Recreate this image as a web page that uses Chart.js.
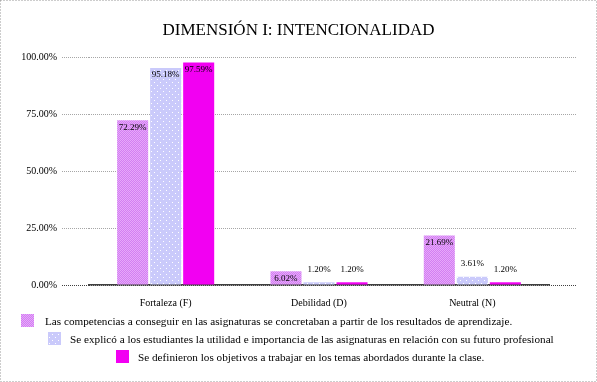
<!DOCTYPE html>
<html>
<head>
<meta charset="utf-8">
<script src="https://cdn.jsdelivr.net/npm/chart.js@4"></script>
<style>
  body { margin: 0; background: #fff; }
  #chart { display: block; }
</style>
</head>
<body>
<canvas id="chart" width="597" height="382"></canvas>
<script>
// datos
const categories = ['Fortaleza (F)', 'Debilidad (D)', 'Neutral (N)'];
const seriesNames = [
  'Las competencias a conseguir en las asignaturas se concretaban a partir de los resultados de aprendizaje.',
  'Se explicó a los estudiantes la utilidad e importancia de las asignaturas en relación con su futuro profesional',
  'Se definieron los objetivos a trabajar en los temas abordados durante la clase.'
];
const competencias = [72.29, 6.02, 21.69];
const utilidad = [95.18, 1.20, 3.61];
const objetivos = [97.59, 1.20, 1.20];
const yTickLabels = ['0.00%', '25.00%', '50.00%', '75.00%', '100.00%'];

const SERIF = "'Liberation Serif', 'Times New Roman', serif";

// texturas parecidas a las del original
function makePattern(size, base, dots) {
  const c = document.createElement('canvas');
  c.width = size; c.height = size;
  const g = c.getContext('2d');
  g.fillStyle = base;
  g.fillRect(0, 0, size, size);
  dots.forEach(d => { g.fillStyle = d[2]; g.fillRect(d[0], d[1], 1, 1); });
  return g.createPattern(c, 'repeat');
}
const fill1 = makePattern(2, '#D27EF2', [[0, 0, '#E7A8FA'], [1, 1, '#E7A8FA']]);
const fill2 = makePattern(6, '#CACAFB', [[1, 1, '#FFFFFF'], [4, 4, '#FFFFFF']]);
const fill3 = '#F200F2';

// etiquetas de valor
const valueLabels = {
  id: 'valueLabels',
  afterDatasetsDraw(chart) {
    const ctx = chart.ctx;
    ctx.save();
    ctx.font = '9px ' + SERIF;
    ctx.fillStyle = '#000';
    ctx.textAlign = 'center';
    ctx.textBaseline = 'middle';
    chart.data.datasets.forEach((ds, i) => {
      chart.getDatasetMeta(i).data.forEach((bar, j) => {
        const h = bar.base - bar.y;
        const y = h >= 12 ? bar.y + 7 : bar.y - 13;
        ctx.fillText(ds.data[j].toFixed(2) + '%', bar.x, y);
      });
    });
    ctx.restore();
  }
};

// marco punteado y leyenda escalonada
const frameAndLegend = {
  id: 'frameAndLegend',
  beforeDraw(chart) {
    const ctx = chart.ctx;
    ctx.save();
    ctx.fillStyle = '#fff';
    ctx.fillRect(0, 0, chart.width, chart.height);
    ctx.restore();
  },
  afterDraw(chart) {
    const ctx = chart.ctx;
    ctx.save();
    ctx.strokeStyle = '#9a9a9a';
    ctx.setLineDash([1, 2]);
    ctx.lineWidth = 1;
    ctx.strokeRect(0.5, 0.5, chart.width - 1, chart.height - 1);
    ctx.setLineDash([]);

    const items = [
      { box: [21, 314], text: 45, y: 322 },
      { box: [48, 332], text: 70, y: 340 },
      { box: [116, 350], text: 138, y: 358 }
    ];
    ctx.font = '11.2px ' + SERIF;
    ctx.textBaseline = 'middle';
    ctx.textAlign = 'left';
    chart.data.datasets.forEach((ds, i) => {
      const it = items[i];
      ctx.fillStyle = ds.backgroundColor;
      ctx.fillRect(it.box[0], it.box[1], 13, 13);
      ctx.fillStyle = '#000';
      ctx.fillText(ds.label, it.text, it.y);
    });
    ctx.restore();
  }
};

const gridColor = c => (c.tick && c.tick.value === 0 ? '#404040' : '#A6A6A6');

const ctx = document.getElementById('chart').getContext('2d');
const chart = new Chart(ctx, {
  type: 'bar',
  data: {
    labels: categories,
    datasets: [
      { label: seriesNames[0], data: competencias, backgroundColor: fill1 },
      { label: seriesNames[1], data: utilidad, backgroundColor: fill2 },
      { label: seriesNames[2], data: objetivos, backgroundColor: fill3 }
    ]
  },
  options: {
    responsive: false,
    animation: false,
    maintainAspectRatio: false,
    layout: { padding: 0 },
    datasets: {
      bar: { categoryPercentage: 0.646, barPercentage: 0.94, borderWidth: 0 }
    },
    plugins: {
      legend: { display: false },
      tooltip: { enabled: false },
      title: {
        display: true,
        text: 'DIMENSIÓN I: INTENCIONALIDAD',
        color: '#000',
        font: { family: SERIF, size: 17, weight: 'normal' },
        padding: { top: 20, bottom: 16.6 }
      }
    },
    scales: {
      x: {
        grid: { display: false },
        border: { display: true, color: '#404040', width: 1.5 },
        ticks: { color: '#000', font: { family: SERIF, size: 10 }, padding: 4 },
        afterFit(s) { s.height = 97; }
      },
      y: {
        min: 0,
        max: 100,
        ticks: {
          stepSize: 25,
          color: '#000',
          padding: 5,
          font: { family: SERIF, size: 10 },
          callback: (v, i) => yTickLabels[i]
        },
        grid: {
          color: gridColor,
          tickColor: gridColor,
          lineWidth: 1,
          drawOnChartArea: true,
          drawTicks: true,
          tickLength: 27,
          tickBorderDash: [1, 1]
        },
        border: { display: false, dash: [1, 1] },
        afterFit(s) { s.width = 89; }
      },
      yRight: {
        position: 'right',
        min: 0,
        max: 100,
        ticks: { stepSize: 25, display: false },
        grid: {
          drawOnChartArea: false,
          color: gridColor,
          tickColor: gridColor,
          drawTicks: true,
          tickLength: 27,
          tickBorderDash: [1, 1]
        },
        border: { display: false },
        afterFit(s) { s.width = 48; }
      }
    }
  },
  plugins: [valueLabels, frameAndLegend]
});
</script>
</body>
</html>
